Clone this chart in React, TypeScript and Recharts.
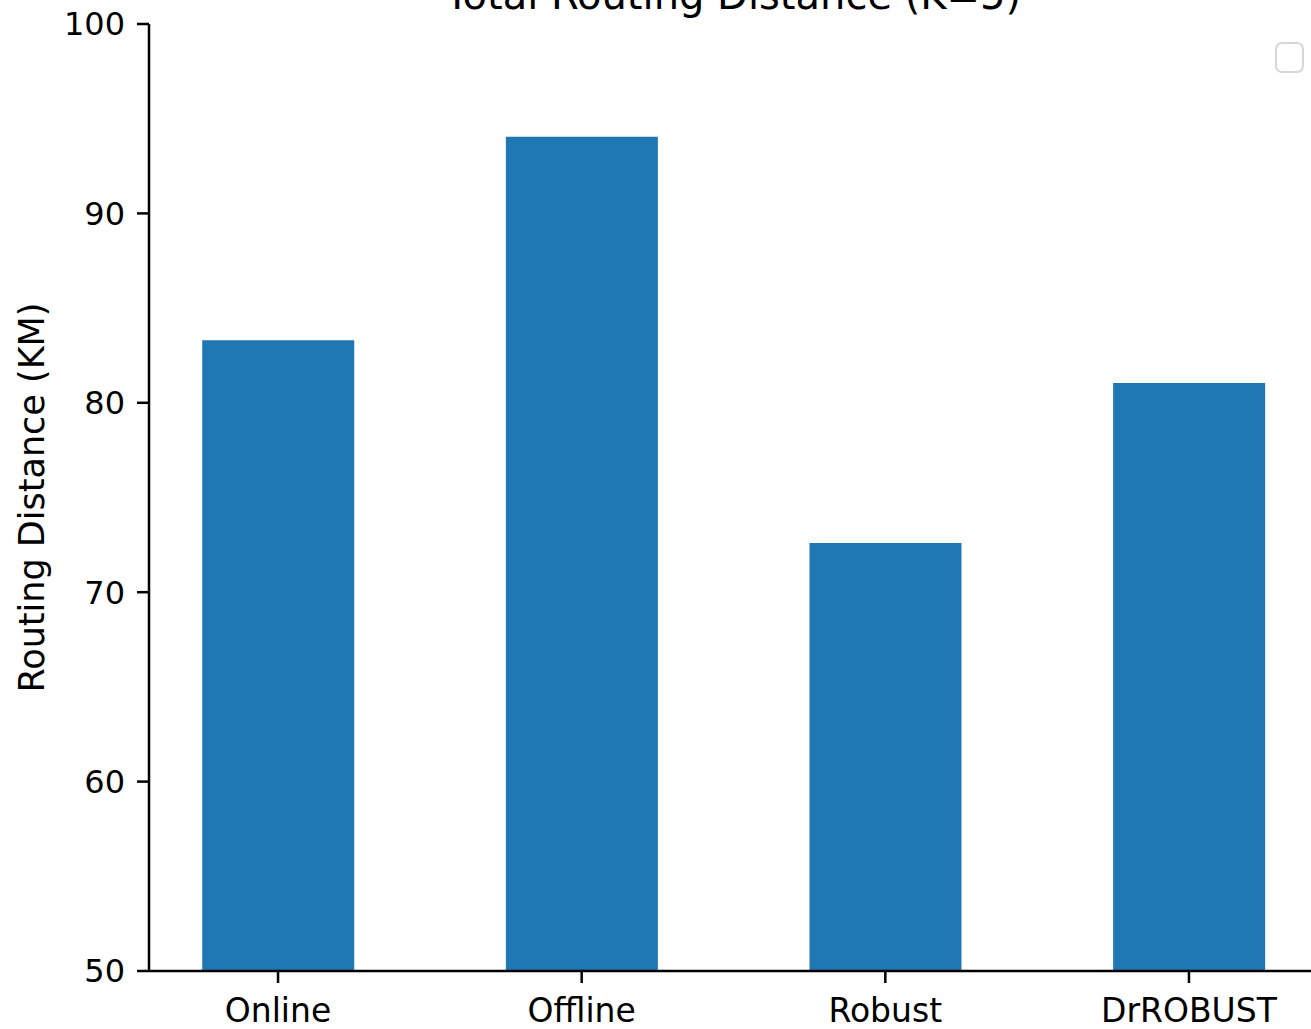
import { BarChart, Bar, XAxis, YAxis } from 'recharts'

const categories = ['Online', 'Offline', 'Robust', 'DrROBUST']
const distances = [83.3, 94.05, 72.6, 81.05]
const yTicks = [50, 60, 70, 80, 90, 100]

const data = categories.map((name, i) => ({ pos: i, name, distance: distances[i] }))

const font = 'DejaVu Sans, sans-serif'

function YLabel(props: any) {
  const { viewBox } = props
  const cy = viewBox.y + viewBox.height / 2
  return (
    <text
      x={32}
      y={cy}
      transform={`rotate(-90, 32, ${cy})`}
      textAnchor="middle"
      dominantBaseline="central"
      fontSize={35}
      fontFamily={font}
      fill="#000"
    >
      Routing Distance (KM)
    </text>
  )
}

export default function App() {
  return (
    <div style={{ position: 'absolute', left: 0, top: 0, width: 1311, height: 1029, overflow: 'hidden', background: '#fff' }}>
      <BarChart
        width={1330}
        height={1029}
        data={data}
        margin={{ top: 24, right: 12, bottom: 0, left: 0 }}
      >
        <text x={733} y={9} textAnchor="middle" fontSize={40} fontFamily={font} fill="#000">
          Total Routing Distance (K=5)
        </text>
        <XAxis
          type="number"
          dataKey="pos"
          domain={[-0.425, 3.425]}
          ticks={[0, 1, 2, 3]}
          tickFormatter={(v: number) => categories[v]}
          height={58}
          tickSize={12}
          tickMargin={16}
          axisLine={{ stroke: '#000', strokeWidth: 2.5 }}
          tickLine={{ stroke: '#000', strokeWidth: 2.5 }}
          tick={{ fill: '#000', fontSize: 33, fontFamily: font }}
          allowDataOverflow
        />
        <YAxis
          type="number"
          domain={[50, 100]}
          ticks={yTicks}
          width={149}
          tickSize={12}
          tickMargin={12}
          axisLine={{ stroke: '#000', strokeWidth: 2.5 }}
          tickLine={{ stroke: '#000', strokeWidth: 2.5 }}
          tick={{ fill: '#000', fontSize: 32, fontFamily: font }}
          allowDataOverflow
          label={<YLabel />}
        />
        <Bar dataKey="distance" fill="#1f77b4" barSize={152} isAnimationActive={false} />
      </BarChart>
      <div
        style={{
          position: 'absolute',
          left: 1275,
          top: 42,
          width: 29,
          height: 31,
          border: '2px solid #d6d6d6',
          borderRadius: 7,
          boxSizing: 'border-box',
        }}
      />
    </div>
  )
}
